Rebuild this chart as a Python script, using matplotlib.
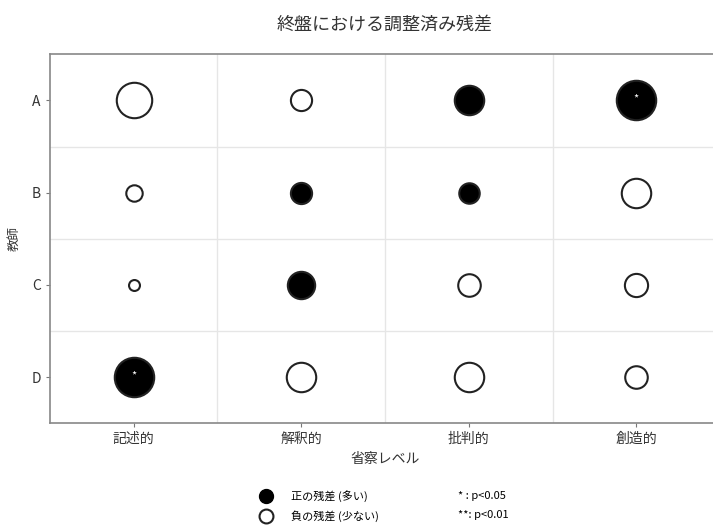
import numpy as np
import matplotlib.pyplot as plt
from matplotlib.lines import Line2D

plt.rcParams['font.family'] = ['Noto Sans CJK JP', 'DejaVu Sans']

levels = ['記述的', '解釈的', '批判的', '創造的']
teachers = ['A', 'B', 'C', 'D']

# adjusted residuals (rows = teachers, cols = levels)
resid_A = [-2.1, -0.75, 1.45, 2.6]
resid_B = [-0.45, 0.75, 0.7, -1.45]
resid_C = [-0.2, 1.25, -0.85, -0.9]
resid_D = [2.6, -1.45, -1.45, -0.85]
stars_A = ['', '', '', '*']
stars_B = ['', '', '', '']
stars_C = ['', '', '', '']
stars_D = ['*', '', '', '']

resid = np.array([resid_A, resid_B, resid_C, resid_D])
stars = [stars_A, stars_B, stars_C, stars_D]

fig = plt.figure(figsize=(7.13, 5.27), dpi=100)
ax = fig.add_axes([0.070, 0.197, 0.940, 0.700])

for i in range(len(teachers)):
    for j in range(len(levels)):
        r = resid[i, j]
        face = 'black' if r > 0 else 'white'
        ax.scatter(j, i, s=abs(r) * 310, facecolor=face, edgecolor='#222222',
                   linewidth=1.5, zorder=3)
        if stars[i][j]:
            ax.text(j, i - 0.02, stars[i][j], color='white', fontsize=8,
                    ha='center', va='center', zorder=4)

ax.set_xlim(-0.5, 3.5)
ax.set_ylim(3.5, -0.5)
ax.set_xticks(range(len(levels)))
ax.set_xticklabels(levels, fontsize=10, color='#333333')
ax.set_yticks(range(len(teachers)))
ax.set_yticklabels(teachers, fontsize=10, color='#333333')
ax.set_xticks(np.arange(0.5, 3.5, 1), minor=True)
ax.set_yticks(np.arange(0.5, 3.5, 1), minor=True)
ax.grid(which='minor', color='#e6e6e6', linewidth=1)
ax.tick_params(which='minor', length=0)
ax.tick_params(which='major', length=3, color='#777777')
for sp in ax.spines.values():
    sp.set_color('#888888')
    sp.set_linewidth(1.2)

ax.set_xlabel('省察レベル', fontsize=10, color='#333333', labelpad=4)
ax.set_ylabel('教師', fontsize=9, color='#333333', labelpad=8)
ax.set_title('終盤における調整済み残差', fontsize=13, color='#333333', pad=18)

handles = [
    Line2D([], [], marker='o', linestyle='', markersize=10, markerfacecolor='black',
           markeredgecolor='black'),
    Line2D([], [], marker='o', linestyle='', markersize=10, markerfacecolor='white',
           markeredgecolor='#222222', markeredgewidth=1.5),
    Line2D([], [], linestyle='', marker=''),
    Line2D([], [], linestyle='', marker=''),
]
labels = ['正の残差 (多い)', '負の残差 (少ない)', '* : p<0.05', '**: p<0.01']
fig.legend(handles, labels, loc='center', bbox_to_anchor=(0.535, 0.04), ncol=2,
           frameon=False, fontsize=8, handletextpad=1.3, columnspacing=3.8,
           labelspacing=0.8)

plt.savefig('out.png', dpi=100)
